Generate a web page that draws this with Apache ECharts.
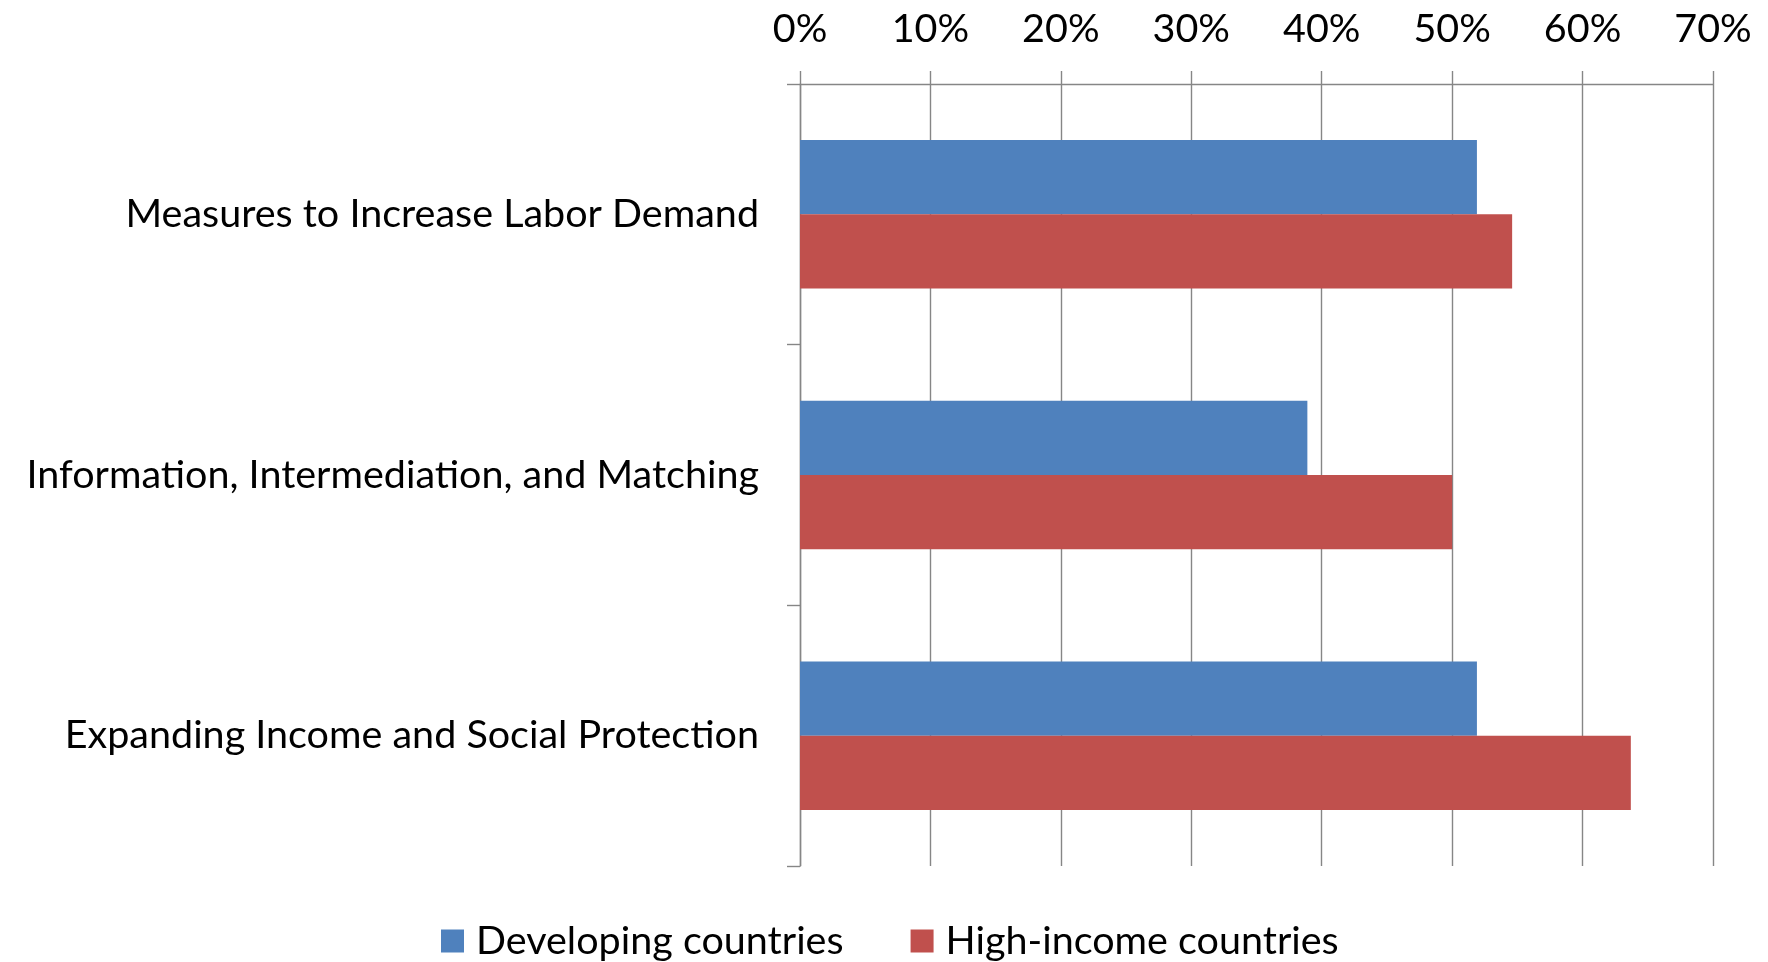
<!DOCTYPE html>
<html>
<head>
<meta charset="utf-8">
<style>
  html, body { margin: 0; padding: 0; background: #ffffff; }
  #chart { width: 1768px; height: 962px; }
</style>
<script src="https://cdn.jsdelivr.net/npm/echarts@6/dist/echarts.min.js"></script>
</head>
<body>
<div id="chart"></div>
<script>
const categories = [
  'Measures to Increase Labor Demand',
  'Information, Intermediation, and Matching',
  'Expanding Income and Social Protection'
];
const seriesNames = ['Developing countries', 'High-income countries'];
const developing = [51.9, 38.9, 51.9];
const highIncome = [54.6, 50.0, 63.7];
const tickMin = 0, tickMax = 70, tickStep = 10;

const FONT = 'Lato';
const FS = 39.5;
const chart = echarts.init(document.getElementById('chart'), null, { renderer: 'canvas' });
chart.setOption({
  backgroundColor: '#ffffff',
  animation: false,
  grid: { left: 800, right: 55, top: 84, bottom: 96, containLabel: false },
  legend: {
    data: seriesNames,
    bottom: -4,
    left: 436,
    icon: 'rect',
    itemWidth: 23,
    itemHeight: 23,
    itemGap: 67,
    textStyle: { fontFamily: FONT, fontSize: FS, color: '#000', padding: [0, 0, 0, 7] }
  },
  xAxis: {
    type: 'value',
    position: 'top',
    min: tickMin, max: tickMax, interval: tickStep,
    axisLine: { show: true, lineStyle: { color: '#868686', width: 1.4 } },
    axisTick: { show: true, inside: false, length: 13, lineStyle: { color: '#868686', width: 1.4 } },
    splitLine: { show: true, lineStyle: { color: '#868686', width: 1.4 } },
    axisLabel: { formatter: '{value}%', fontFamily: FONT, fontSize: FS, color: '#000', margin: 35 }
  },
  yAxis: {
    type: 'category',
    data: categories,
    inverse: true,
    axisLine: { show: true, lineStyle: { color: '#868686', width: 1.4 } },
    axisTick: { show: true, length: 13, lineStyle: { color: '#868686', width: 1.4 } },
    splitLine: { show: false },
    axisLabel: { fontFamily: FONT, fontSize: FS, color: '#000', margin: 41 }
  },
  series: [
    { name: seriesNames[0], type: 'bar', data: developing, itemStyle: { color: '#4F81BD' }, barGap: '0%', barCategoryGap: '43%' },
    { name: seriesNames[1], type: 'bar', data: highIncome, itemStyle: { color: '#C0504D' }, barGap: '0%', barCategoryGap: '43%' }
  ]
});
</script>
</body>
</html>
